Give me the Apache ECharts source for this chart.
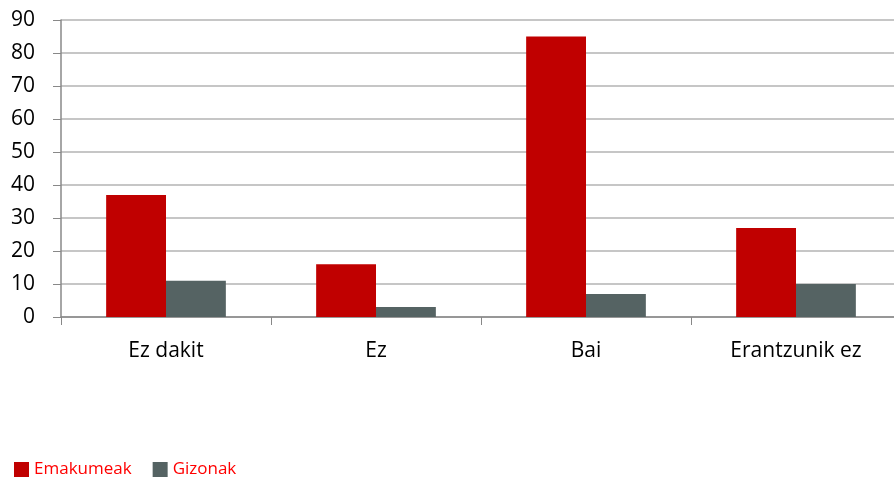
<!DOCTYPE html>
<html>
<head>
<meta charset="utf-8">
<script src="https://cdn.jsdelivr.net/npm/echarts@6/dist/echarts.min.js"></script>
<style>
  html, body { margin: 0; padding: 0; background: #fff; }
  #chart { width: 894px; height: 480px; }
</style>
</head>
<body>
<div id="chart"></div>
<script>
const categories = ['Ez dakit', 'Ez', 'Bai', 'Erantzunik ez']
const emakumeak = [37, 16, 85, 27]
const gizonak = [11, 3, 7, 10]
const yTicks = { min: 0, max: 90, interval: 10 }

const chart = echarts.init(document.getElementById('chart'))
const font = '"Open Sans", Lato, sans-serif'

chart.setOption({
  animation: false,
  textStyle: { fontFamily: font },
  legend: {
    left: 9,
    top: 456,
    itemWidth: 15,
    itemHeight: 15,
    itemGap: 21,
    icon: 'rect',
    textStyle: { color: '#ff0000', fontSize: 17, fontFamily: font },
    data: ['Emakumeak', 'Gizonak'],
  },
  grid: { left: 61, top: 20, width: 840, height: 297, outerBoundsMode: 'none', containLabel: false },
  xAxis: {
    type: 'category',
    data: categories,
    axisLine: { lineStyle: { color: '#888', width: 1.5 } },
    axisTick: { show: true, length: 8, lineStyle: { color: '#888' } },
    axisLabel: { color: '#000', fontSize: 21, margin: 24, fontFamily: font },
  },
  yAxis: {
    type: 'value',
    min: yTicks.min,
    max: yTicks.max,
    interval: yTicks.interval,
    axisLine: { show: true, lineStyle: { color: '#888', width: 1.5 } },
    axisTick: { show: true, length: 8, lineStyle: { color: '#888' } },
    axisLabel: { color: '#000', fontSize: 21, margin: 26, fontFamily: font },
    splitLine: { lineStyle: { color: '#b3b3b3', width: 1.5 } },
  },
  series: [
    {
      name: 'Emakumeak',
      type: 'bar',
      data: emakumeak,
      barGap: '0%',
      barCategoryGap: '43%',
      itemStyle: { color: '#c00000' },
    },
    {
      name: 'Gizonak',
      type: 'bar',
      data: gizonak,
      barGap: '0%',
      barCategoryGap: '43%',
      itemStyle: { color: '#556363' },
    },
  ],
})
</script>
</body>
</html>
